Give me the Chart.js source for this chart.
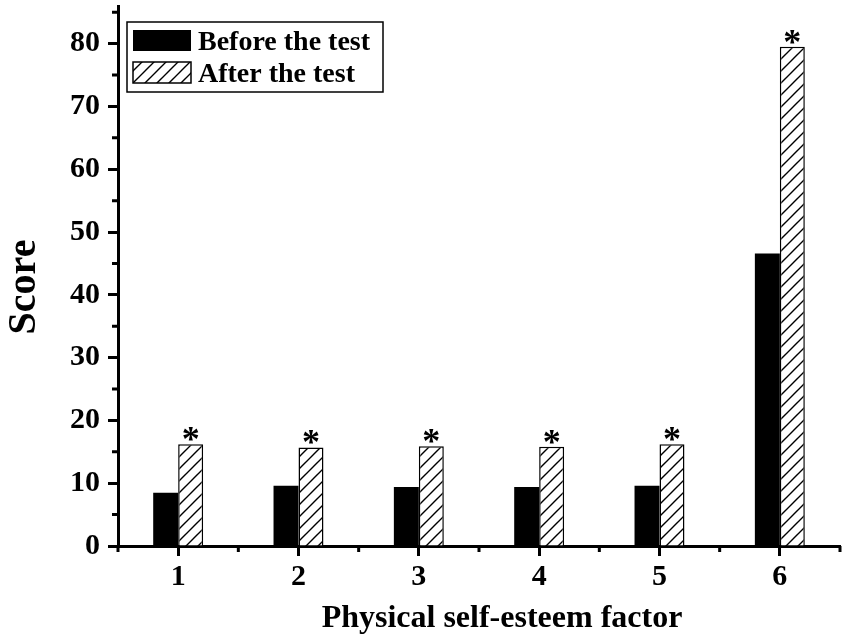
<!DOCTYPE html>
<html lang="en">
<head>
<meta charset="UTF-8" />
<title>Physical self-esteem factor</title>
<script src="https://cdn.jsdelivr.net/npm/chart.js@4"></script>
<style>
  html, body { margin: 0; padding: 0; background: #fff; }
  #chart { display: block; }
</style>
</head>
<body>
<canvas id="chart" width="851" height="642"></canvas>
<script>
  // data
  const factors = ["1", "2", "3", "4", "5", "6"];
  const beforeTest = [8.5, 9.6, 9.4, 9.4, 9.6, 46.6];
  const afterTest = [16.2, 15.7, 15.9, 15.8, 16.2, 79.5];
  const marks = ["*", "*", "*", "*", "*", "*"];
  const yTicks = [0, 10, 20, 30, 40, 50, 60, 70, 80];
  const yMinor = [5, 15, 25, 35, 45, 55, 65, 75, 85];
  const xTitle = "Physical self-esteem factor";
  const yTitle = "Score";

  const serif = "'Liberation Serif', 'Times New Roman', serif";

  // diagonal hatch for the "after" bars
  function hatch() {
    const s = 12, c = document.createElement("canvas");
    c.width = c.height = s;
    const g = c.getContext("2d");
    g.fillStyle = "#fff";
    g.fillRect(0, 0, s, s);
    g.strokeStyle = "#000";
    g.lineWidth = 1.4;
    g.beginPath();
    g.moveTo(0, s); g.lineTo(s, 0);
    g.moveTo(-s / 2, s / 2); g.lineTo(s / 2, -s / 2);
    g.moveTo(s / 2, s * 1.5); g.lineTo(s * 1.5, s / 2);
    g.stroke();
    return g.createPattern(c, "repeat");
  }

  // minor ticks, axis titles, asterisks and the boxed legend
  const extras = {
    id: "extras",
    afterDraw(chart) {
      const ctx = chart.ctx, area = chart.chartArea;
      const x = chart.scales.x, y = chart.scales.y;
      ctx.save();
      ctx.strokeStyle = "#000";
      ctx.lineWidth = 3;
      ctx.beginPath();
      yMinor.forEach(v => {
        const py = y.getPixelForValue(v);
        ctx.moveTo(area.left - 6, py); ctx.lineTo(area.left, py);
      });
      for (let i = 0; i <= factors.length; i++) {
        const px = x.getPixelForValue(i - 0.5);
        ctx.moveTo(px, area.bottom); ctx.lineTo(px, area.bottom + 6);
      }
      ctx.stroke();

      // axis titles (sit a little off-centre in the original)
      ctx.fillStyle = "#000";
      ctx.textAlign = "center";
      ctx.textBaseline = "alphabetic";
      ctx.font = "bold 32px " + serif;
      ctx.fillText(xTitle, (area.left + area.right) / 2 + 23, chart.height - 15);
      ctx.save();
      ctx.translate(35, (area.top + area.bottom) / 2 + 11);
      ctx.rotate(-Math.PI / 2);
      ctx.font = "bold 40px " + serif;
      ctx.fillText(yTitle, 0, 0);
      ctx.restore();

      // significance marks
      ctx.font = "bold 36px " + serif;
      chart.getDatasetMeta(1).data.forEach((bar, i) => {
        ctx.fillText(marks[i], bar.x, bar.y + 7);
      });

      // legend
      const bx = area.left + 9, by = area.top + 16;
      ctx.lineWidth = 1.5;
      ctx.strokeRect(bx, by, 256, 70);
      ctx.font = "bold 28px " + serif;
      ctx.textAlign = "left";
      chart.data.datasets.forEach((ds, i) => {
        const sy = by + 8 + i * 32;
        ctx.fillStyle = ds.backgroundColor;
        ctx.fillRect(bx + 6, sy, 58, 21);
        if (ds.borderWidth) ctx.strokeRect(bx + 6, sy, 58, 21);
        ctx.fillStyle = "#000";
        ctx.fillText(ds.label, bx + 71, sy + 20);
      });
      ctx.restore();
    }
  };

  new Chart(document.getElementById("chart"), {
    type: "bar",
    data: {
      labels: factors,
      datasets: [
        { label: "Before the test", data: beforeTest, backgroundColor: "#000", borderWidth: 0 },
        { label: "After the test", data: afterTest, backgroundColor: hatch(), borderColor: "#000", borderWidth: 1.5 }
      ]
    },
    options: {
      responsive: false,
      animation: false,
      layout: { padding: { left: 0, top: 6, right: 11, bottom: 0 } },
      datasets: { bar: { categoryPercentage: 0.415, barPercentage: 1 } },
      plugins: { legend: { display: false }, tooltip: { enabled: false } },
      scales: {
        x: {
          afterFit: s => { s.height = 96; s.paddingLeft = 0; s.paddingRight = 0; },
          grid: { drawOnChartArea: false, offset: false, tickLength: 10, tickWidth: 3, tickColor: "#000" },
          border: { display: true, width: 3, color: "#000" },
          ticks: { color: "#000", padding: 3, font: { family: serif, size: 30, weight: "bold" } }
        },
        y: {
          min: 0, max: 86,
          afterBuildTicks: s => { s.ticks = yTicks.map(v => ({ value: v })); },
          afterFit: s => { s.width = 118; s.paddingTop = 0; s.paddingBottom = 0; },
          grid: { drawOnChartArea: false, tickLength: 10, tickWidth: 3, tickColor: "#000" },
          border: { display: true, width: 3, color: "#000" },
          ticks: { color: "#000", padding: 8, font: { family: serif, size: 30, weight: "bold" } }
        }
      }
    },
    plugins: [extras]
  });
</script>
</body>
</html>
